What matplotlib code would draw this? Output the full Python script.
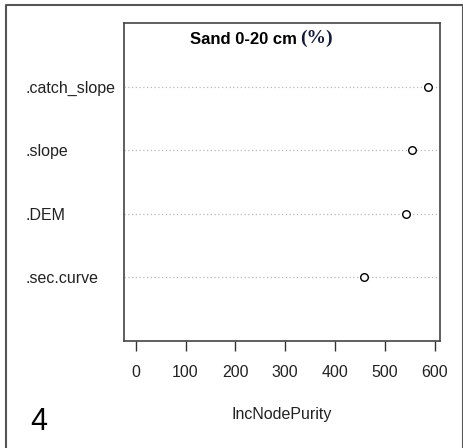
import matplotlib
matplotlib.use("Agg")
import matplotlib.pyplot as plt
from matplotlib.lines import Line2D

plt.rcParams['font.family'] = ['Liberation Sans', 'DejaVu Sans']

# variable importance (random forest), ordered bottom to top
variables = ['.sec.curve', '.DEM', '.slope', '.catch_slope']
purity = [459, 543, 555, 587]
xticks = [0, 100, 200, 300, 400, 500, 600]

W, H = 464, 448
fig = plt.figure(figsize=(W / 100, H / 100), dpi=100)
ax = fig.add_axes([124 / W, 1 - 341 / H, (440 - 124) / W, (341 - 23) / H])

ypos = list(range(1, len(variables) + 1))
for y in ypos:
    ax.axhline(y, color='#b8b8b8', lw=0.9, ls=(0, (1, 2)), zorder=1)
ax.scatter(purity, ypos, s=30, facecolors='white', edgecolors='black',
           linewidths=1.0, zorder=3)

xmax = max(purity)
ax.set_xlim(-0.04 * xmax, 1.04 * xmax)
ax.set_ylim(0, len(variables) + 1)

ax.set_xticks(xticks)
ax.set_xticklabels([str(t) for t in xticks], fontsize=11.5, color='#222222')
ax.tick_params(axis='x', length=7, width=1, pad=10, color='#333333')

ax.set_yticks(ypos)
ax.set_yticklabels(variables, fontsize=11.5, color='#222222')
ax.tick_params(axis='y', length=0, pad=71)
for lab in ax.get_yticklabels():
    lab.set_horizontalalignment('left')

for s in ax.spines.values():
    s.set_color('#444444')
    s.set_linewidth(1.2)

ax.set_xlabel('IncNodePurity', fontsize=11.5, color='#222222', labelpad=20)

fig.text(190 / W, 1 - 39 / H, 'Sand 0-20 cm', fontsize=12, fontweight='bold',
         ha='left', va='center')
fig.text(300 / W, 1 - 38 / H, '(%)', fontsize=14, fontweight='bold',
         family='Liberation Serif', color='#141a38', ha='left', va='center')

fig.text(30 / W, 1 - 422 / H, '4', fontsize=22, ha='left', va='center')

# outer panel frame (open at the bottom)
fig.add_artist(Line2D([6 / W, 6 / W, 463 / W, 463 / W],
                      [0, 1 - 5 / H, 1 - 5 / H, 0],
                      transform=fig.transFigure, color='#555555', lw=1.5))

fig.savefig('out.png', dpi=100)
